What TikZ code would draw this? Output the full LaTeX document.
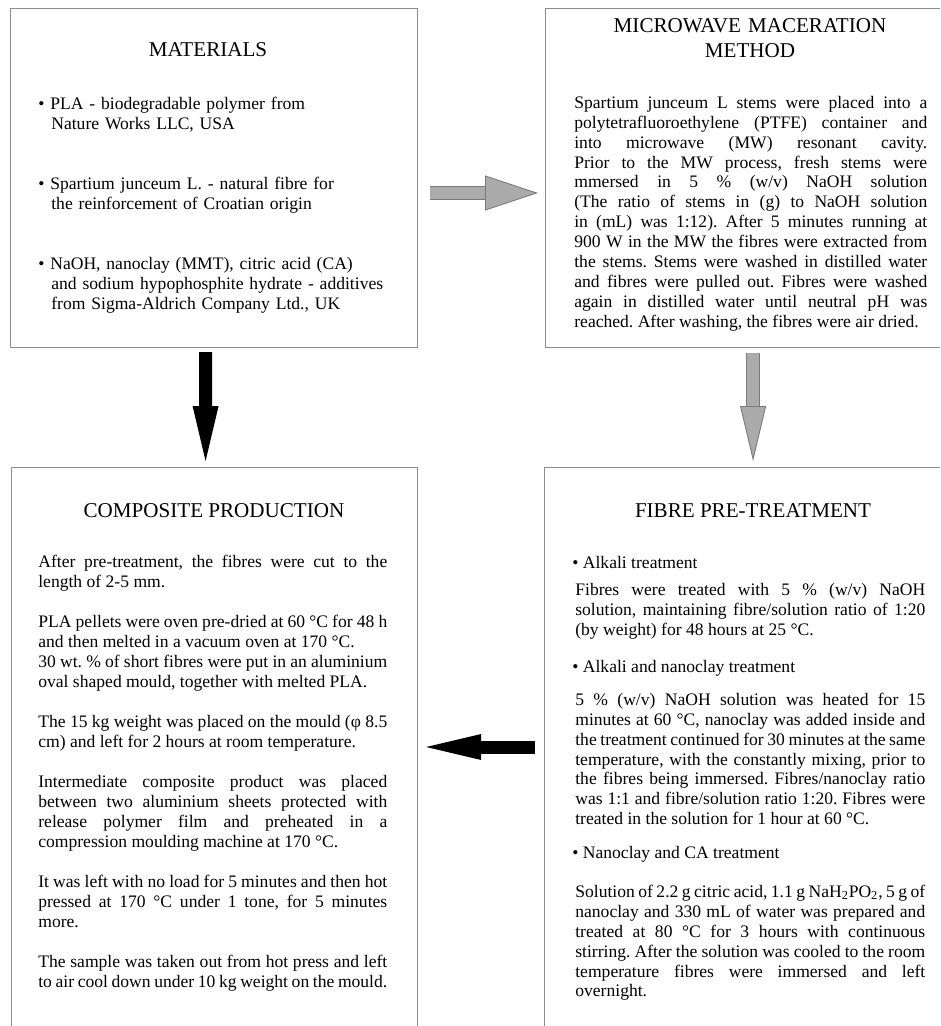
\documentclass[tikz,border=0pt]{standalone}
\usepackage{fontspec}
\setmainfont{Liberation Serif}
\usetikzlibrary{arrows.meta}
\definecolor{boxline}{HTML}{8C8C8C}
\definecolor{arrowgray}{HTML}{ABABAB}
\definecolor{edgegray}{HTML}{7A7A7A}
\setlength{\parindent}{0pt}
\tolerance=10000
\hbadness=10000
\hfuzz=20pt
\frenchspacing
\tikzset{
  panel/.style={draw=boxline, line width=0.7pt, anchor=north west, inner sep=0pt},
  heading/.style={font=\fontsize{12}{14.17}\selectfont, inner sep=0pt},
  bodytext/.style={font=\fontsize{10}{11.34}\selectfont, inner sep=0pt, anchor=north west,
    align=justify, execute at begin node=\strut},
  itemtext/.style={font=\fontsize{10}{11.34}\selectfont, inner sep=0pt, anchor=base west},
  blockarrow/.style={line width=0.26cm, -{Triangle[length=1.1cm, width=0.52cm, line width=0pt]}},
  greyarrow/.style={line width=0.25cm, arrowgray,
    preaction={draw=edgegray, line width=0.29cm, -, shorten >=1cm},
    -{Triangle[length=1.1cm, width=0.52cm, line width=0.5pt, color=edgegray, fill=arrowgray]}}
}
\begin{document}
\begin{tikzpicture}[x=0.02cm, y=-0.02cm]
\useasboundingbox (0,0) rectangle (940,1026);
\clip (0,0) rectangle (940,1026);
\node[panel, minimum width=8.14cm, minimum height=6.78cm] (mat) at (10,8) {};
\node[panel, minimum width=8.6cm, minimum height=6.78cm] (mw) at (545,8) {};
\node[panel, minimum width=8.12cm, minimum height=11.5cm] (comp) at (11,467) {};
\node[panel, minimum width=8.6cm, minimum height=11.5cm] (pre) at (544,467) {};

\node[heading, anchor=base] (matT) at (208,57) {MATERIALS};
\node[bodytext, text width=8cm, align=left] (matA) at (38,95)
  {\textbullet\ PLA - biodegradable polymer from\\\hspace*{0.26cm}Nature Works LLC, USA};
\node[bodytext, text width=8cm, align=left] (matB) at (38,175)
  {\textbullet\ Spartium junceum L. - natural fibre for\\\hspace*{0.26cm}the reinforcement of Croatian origin};
\node[bodytext, text width=8cm, align=left] (matC) at (38,255)
  {\textbullet\ NaOH, nanoclay (MMT), citric acid (CA)\\\hspace*{0.26cm}and sodium hypophosphite hydrate - additives\\\hspace*{0.26cm}from Sigma-Aldrich Company Ltd., UK};

\node[heading, anchor=north, text width=8cm, align=center, execute at begin node=\strut] (mwT) at (750,14.5)
  {MICROWAVE MACERATION\\METHOD};
\node[bodytext, text width=7.06cm] (mwP) at (574,94)
  {Spartium junceum L stems were placed into a\linebreak
   polytetrafluoroethylene (PTFE) container and\linebreak
   into microwave (MW) resonant cavity.\linebreak
   Prior to the MW process, fresh stems were\linebreak
   mmersed in 5 \% (w/v) NaOH solution\linebreak
   (The ratio of stems in (g) to NaOH solution\linebreak
   in (mL) was 1:12). After 5 minutes running at\linebreak
   900 W in the MW the fibres were extracted from\linebreak
   the stems. Stems were washed in distilled water\linebreak
   and fibres were pulled out. Fibres were washed\linebreak
   again in distilled water until neutral pH was\linebreak
   reached. After washing, the fibres were air dried.};

\node[heading, anchor=base] (compT) at (214,517) {COMPOSITE PRODUCTION};
\node[bodytext, text width=6.98cm] (compA) at (38,553)
  {After pre-treatment, the fibres were cut to the\linebreak length of 2-5 mm.};
\node[bodytext, text width=6.98cm] (compB) at (38,613)
  {PLA pellets were oven pre-dried at 60 °C for 48 h\linebreak
   and then melted in a vacuum oven at 170 °C.\\
   30 wt. \% of short fibres were put in an aluminium\linebreak
   oval shaped mould, together with melted PLA.};
\node[bodytext, text width=6.98cm] (compC) at (38,713)
  {The 15 kg weight was placed on the mould (φ 8.5\linebreak
   cm) and left for 2 hours at room temperature.};
\node[bodytext, text width=6.98cm] (compD) at (38,773)
  {Intermediate composite product was placed\linebreak
   between two aluminium sheets protected with\linebreak
   release polymer film and preheated in a\linebreak
   compression moulding machine at 170 °C.};
\node[bodytext, text width=6.98cm] (compE) at (38,873)
  {It was left with no load for 5 minutes and then hot\linebreak
   pressed at 170 °C under 1 tone, for 5 minutes\linebreak
   more.};
\node[bodytext, text width=6.98cm] (compF) at (38,953)
  {The sample was taken out from hot press and left\linebreak
   to air cool down under 10 kg weight on the mould.};

\node[heading, anchor=base] (preT) at (753,517) {FIBRE PRE-TREATMENT};
\node[itemtext] (preA) at (572,568) {\textbullet\ Alkali treatment};
\node[bodytext, text width=7cm] (preAt) at (575,581)
  {Fibres were treated with 5 \% (w/v) NaOH\linebreak
   solution, maintaining fibre/solution ratio of 1:20\linebreak
   (by weight) for 48 hours at 25 °C.};
\node[itemtext] (preB) at (572,672) {\textbullet\ Alkali and nanoclay treatment};
\node[bodytext, text width=7cm] (preBt) at (575,691)
  {5 \% (w/v) NaOH solution was heated for 15\linebreak
   minutes at 60 °C, nanoclay was added inside and\linebreak
   the treatment continued for 30 minutes at the same\linebreak
   temperature, with the constantly mixing, prior to\linebreak
   the fibres being immersed. Fibres/nanoclay ratio\linebreak
   was 1:1 and fibre/solution ratio 1:20. Fibres were\linebreak
   treated in the solution for 1 hour at 60 °C.};
\node[itemtext] (preC) at (572,858) {\textbullet\ Nanoclay and CA treatment};
\node[bodytext, text width=7cm] (preCt) at (575,883)
  {Solution of 2.2 g citric acid, 1.1 g NaH\textsubscript{2}PO\textsubscript{2}, 5 g of\linebreak
   nanoclay and 330 mL of water was prepared and\linebreak
   treated at 80 °C for 3 hours with continuous\linebreak
   stirring. After the solution was cooled to the room\linebreak
   temperature fibres were immersed and left\linebreak
   overnight.};

\draw[greyarrow, -{Triangle[length=1.06cm, width=0.7cm, line width=0.5pt, color=edgegray, fill=arrowgray]}]
  ([shift={(12,185)}]mat.north east) -- ([shift={(-7,185)}]mw.north west);
\draw[blockarrow, black] ([shift={(-8.5,4)}]mat.south) -- ([shift={(-9,-6)}]comp.north);
\draw[greyarrow] ([shift={(-7.5,5)}]mw.south) -- ([shift={(-6.5,-6)}]pre.north);
\draw[blockarrow, black] ([shift={(-9,280)}]pre.north west) -- ([shift={(8,280)}]comp.north east);
\end{tikzpicture}
\end{document}
